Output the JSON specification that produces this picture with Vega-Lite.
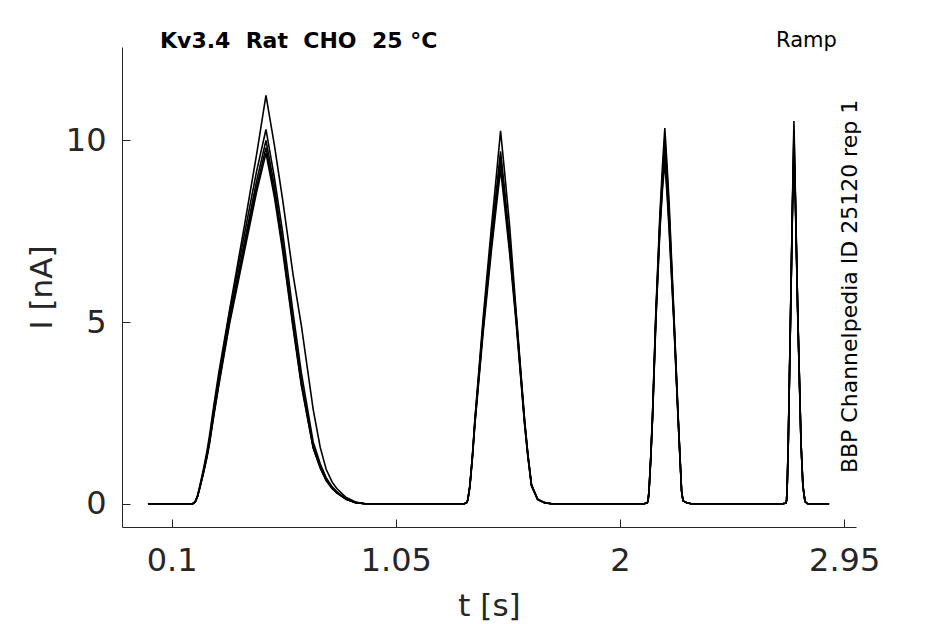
{
  "$schema": "https://vega.github.io/schema/vega-lite/v6.json",
  "width": 734,
  "height": 480,
  "autosize": "none",
  "padding": {"left": 122, "top": 47, "right": 89, "bottom": 97},
  "background": "white",
  "datasets": {
    "sweeps": [
      {"sweep": "A", "t": 0, "I": 0}, {"sweep": "A", "t": 0.19, "I": 0}, {"sweep": "A", "t": 0.2, "I": 0.05}, {"sweep": "A", "t": 0.21, "I": 0.22},
      {"sweep": "A", "t": 0.22, "I": 0.5}, {"sweep": "A", "t": 0.235, "I": 0.95}, {"sweep": "A", "t": 0.25, "I": 1.45}, {"sweep": "A", "t": 0.26, "I": 1.85},
      {"sweep": "A", "t": 0.28, "I": 2.75}, {"sweep": "A", "t": 0.3, "I": 3.6}, {"sweep": "A", "t": 0.345, "I": 5.3}, {"sweep": "A", "t": 0.41, "I": 7.7},
      {"sweep": "A", "t": 0.46, "I": 9.6}, {"sweep": "A", "t": 0.5, "I": 11.24}, {"sweep": "A", "t": 0.535, "I": 9.9}, {"sweep": "A", "t": 0.57, "I": 8.4},
      {"sweep": "A", "t": 0.615, "I": 6.3}, {"sweep": "A", "t": 0.65, "I": 4.9}, {"sweep": "A", "t": 0.7, "I": 2.6}, {"sweep": "A", "t": 0.73, "I": 1.55},
      {"sweep": "A", "t": 0.755, "I": 0.95}, {"sweep": "A", "t": 0.78, "I": 0.6},
      {"sweep": "A", "t": 0.8, "I": 0.42}, {"sweep": "A", "t": 0.84, "I": 0.17}, {"sweep": "A", "t": 0.88, "I": 0.05}, {"sweep": "A", "t": 0.92, "I": 0},
      {"sweep": "A", "t": 1.34, "I": 0}, {"sweep": "A", "t": 1.35, "I": 0.03}, {"sweep": "A", "t": 1.355, "I": 0.1}, {"sweep": "A", "t": 1.364, "I": 0.5},
      {"sweep": "A", "t": 1.375, "I": 1.35}, {"sweep": "A", "t": 1.385, "I": 2.3}, {"sweep": "A", "t": 1.42, "I": 5.1}, {"sweep": "A", "t": 1.455, "I": 7.6},
      {"sweep": "A", "t": 1.475, "I": 8.95}, {"sweep": "A", "t": 1.494, "I": 10.26}, {"sweep": "A", "t": 1.51, "I": 9.2}, {"sweep": "A", "t": 1.533, "I": 7.6},
      {"sweep": "A", "t": 1.561, "I": 5.2}, {"sweep": "A", "t": 1.596, "I": 2.3}, {"sweep": "A", "t": 1.61, "I": 1.35}, {"sweep": "A", "t": 1.625, "I": 0.52},
      {"sweep": "A", "t": 1.651, "I": 0.13}, {"sweep": "A", "t": 1.68, "I": 0.03}, {"sweep": "A", "t": 1.71, "I": 0},
      {"sweep": "A", "t": 2.1, "I": 0}, {"sweep": "A", "t": 2.115, "I": 0.02}, {"sweep": "A", "t": 2.119, "I": 0.08}, {"sweep": "A", "t": 2.123, "I": 0.36},
      {"sweep": "A", "t": 2.13, "I": 1.25}, {"sweep": "A", "t": 2.138, "I": 2.5}, {"sweep": "A", "t": 2.152, "I": 5.3}, {"sweep": "A", "t": 2.169, "I": 7.95},
      {"sweep": "A", "t": 2.18, "I": 9.3}, {"sweep": "A", "t": 2.19, "I": 10.34}, {"sweep": "A", "t": 2.2, "I": 9.25}, {"sweep": "A", "t": 2.208, "I": 8.3},
      {"sweep": "A", "t": 2.228, "I": 5.3}, {"sweep": "A", "t": 2.246, "I": 2.5}, {"sweep": "A", "t": 2.254, "I": 1.35}, {"sweep": "A", "t": 2.261, "I": 0.36},
      {"sweep": "A", "t": 2.267, "I": 0.08}, {"sweep": "A", "t": 2.285, "I": 0.02}, {"sweep": "A", "t": 2.303, "I": 0},
      {"sweep": "A", "t": 2.69, "I": 0}, {"sweep": "A", "t": 2.703, "I": 0.02}, {"sweep": "A", "t": 2.706, "I": 0.1}, {"sweep": "A", "t": 2.709, "I": 0.6},
      {"sweep": "A", "t": 2.713, "I": 1.7}, {"sweep": "A", "t": 2.723, "I": 5.35}, {"sweep": "A", "t": 2.731, "I": 8.4}, {"sweep": "A", "t": 2.737, "I": 10.53},
      {"sweep": "A", "t": 2.743, "I": 8.6}, {"sweep": "A", "t": 2.753, "I": 5.35}, {"sweep": "A", "t": 2.767, "I": 1.7}, {"sweep": "A", "t": 2.775, "I": 0.5},
      {"sweep": "A", "t": 2.784, "I": 0.06}, {"sweep": "A", "t": 2.795, "I": 0}, {"sweep": "A", "t": 2.886, "I": 0},

      {"sweep": "B", "t": 0, "I": 0}, {"sweep": "B", "t": 0.19, "I": 0}, {"sweep": "B", "t": 0.2, "I": 0.05}, {"sweep": "B", "t": 0.21, "I": 0.21},
      {"sweep": "B", "t": 0.22, "I": 0.47}, {"sweep": "B", "t": 0.235, "I": 0.89}, {"sweep": "B", "t": 0.25, "I": 1.37}, {"sweep": "B", "t": 0.26, "I": 1.73},
      {"sweep": "B", "t": 0.28, "I": 2.63}, {"sweep": "B", "t": 0.3, "I": 3.47}, {"sweep": "B", "t": 0.345, "I": 5.25}, {"sweep": "B", "t": 0.41, "I": 7.46},
      {"sweep": "B", "t": 0.46, "I": 9.14}, {"sweep": "B", "t": 0.5, "I": 10.3}, {"sweep": "B", "t": 0.535, "I": 9.0}, {"sweep": "B", "t": 0.57, "I": 7.5},
      {"sweep": "B", "t": 0.615, "I": 5.25}, {"sweep": "B", "t": 0.65, "I": 3.6}, {"sweep": "B", "t": 0.7, "I": 1.7}, {"sweep": "B", "t": 0.73, "I": 1.1},
      {"sweep": "B", "t": 0.755, "I": 0.72}, {"sweep": "B", "t": 0.78, "I": 0.47},
      {"sweep": "B", "t": 0.8, "I": 0.33}, {"sweep": "B", "t": 0.84, "I": 0.13}, {"sweep": "B", "t": 0.88, "I": 0.03}, {"sweep": "B", "t": 0.92, "I": 0},
      {"sweep": "B", "t": 1.34, "I": 0}, {"sweep": "B", "t": 1.35, "I": 0.03}, {"sweep": "B", "t": 1.355, "I": 0.1}, {"sweep": "B", "t": 1.364, "I": 0.49},
      {"sweep": "B", "t": 1.375, "I": 1.34}, {"sweep": "B", "t": 1.385, "I": 2.27}, {"sweep": "B", "t": 1.42, "I": 4.95}, {"sweep": "B", "t": 1.455, "I": 7.3},
      {"sweep": "B", "t": 1.475, "I": 8.55}, {"sweep": "B", "t": 1.494, "I": 9.7}, {"sweep": "B", "t": 1.51, "I": 8.7}, {"sweep": "B", "t": 1.533, "I": 7.2},
      {"sweep": "B", "t": 1.561, "I": 5.1}, {"sweep": "B", "t": 1.596, "I": 2.27}, {"sweep": "B", "t": 1.61, "I": 1.34}, {"sweep": "B", "t": 1.625, "I": 0.52},
      {"sweep": "B", "t": 1.651, "I": 0.12}, {"sweep": "B", "t": 1.68, "I": 0.03}, {"sweep": "B", "t": 1.71, "I": 0},
      {"sweep": "B", "t": 2.1, "I": 0}, {"sweep": "B", "t": 2.115, "I": 0.02}, {"sweep": "B", "t": 2.119, "I": 0.08}, {"sweep": "B", "t": 2.123, "I": 0.35},
      {"sweep": "B", "t": 2.13, "I": 1.22}, {"sweep": "B", "t": 2.138, "I": 2.45}, {"sweep": "B", "t": 2.152, "I": 5.2}, {"sweep": "B", "t": 2.169, "I": 7.8},
      {"sweep": "B", "t": 2.18, "I": 9.05}, {"sweep": "B", "t": 2.19, "I": 10.1}, {"sweep": "B", "t": 2.2, "I": 9.05}, {"sweep": "B", "t": 2.208, "I": 8.1},
      {"sweep": "B", "t": 2.228, "I": 5.2}, {"sweep": "B", "t": 2.246, "I": 2.45}, {"sweep": "B", "t": 2.254, "I": 1.32}, {"sweep": "B", "t": 2.261, "I": 0.35},
      {"sweep": "B", "t": 2.267, "I": 0.08}, {"sweep": "B", "t": 2.285, "I": 0.02}, {"sweep": "B", "t": 2.303, "I": 0},
      {"sweep": "B", "t": 2.69, "I": 0}, {"sweep": "B", "t": 2.703, "I": 0.02}, {"sweep": "B", "t": 2.706, "I": 0.1}, {"sweep": "B", "t": 2.709, "I": 0.6},
      {"sweep": "B", "t": 2.713, "I": 1.7}, {"sweep": "B", "t": 2.723, "I": 5.3}, {"sweep": "B", "t": 2.731, "I": 8.3}, {"sweep": "B", "t": 2.737, "I": 10.3},
      {"sweep": "B", "t": 2.743, "I": 8.5}, {"sweep": "B", "t": 2.753, "I": 5.3}, {"sweep": "B", "t": 2.767, "I": 1.7}, {"sweep": "B", "t": 2.775, "I": 0.5},
      {"sweep": "B", "t": 2.784, "I": 0.06}, {"sweep": "B", "t": 2.795, "I": 0}, {"sweep": "B", "t": 2.886, "I": 0},

      {"sweep": "C", "t": 0, "I": 0}, {"sweep": "C", "t": 0.19, "I": 0}, {"sweep": "C", "t": 0.2, "I": 0.05}, {"sweep": "C", "t": 0.21, "I": 0.2},
      {"sweep": "C", "t": 0.22, "I": 0.46}, {"sweep": "C", "t": 0.235, "I": 0.87}, {"sweep": "C", "t": 0.25, "I": 1.33}, {"sweep": "C", "t": 0.26, "I": 1.68},
      {"sweep": "C", "t": 0.28, "I": 2.55}, {"sweep": "C", "t": 0.3, "I": 3.37}, {"sweep": "C", "t": 0.345, "I": 5.1}, {"sweep": "C", "t": 0.41, "I": 7.24},
      {"sweep": "C", "t": 0.46, "I": 8.87}, {"sweep": "C", "t": 0.5, "I": 10.0}, {"sweep": "C", "t": 0.535, "I": 8.77}, {"sweep": "C", "t": 0.57, "I": 7.24},
      {"sweep": "C", "t": 0.615, "I": 5.0}, {"sweep": "C", "t": 0.65, "I": 3.37}, {"sweep": "C", "t": 0.7, "I": 1.58}, {"sweep": "C", "t": 0.73, "I": 1.02},
      {"sweep": "C", "t": 0.755, "I": 0.66}, {"sweep": "C", "t": 0.78, "I": 0.44},
      {"sweep": "C", "t": 0.8, "I": 0.31}, {"sweep": "C", "t": 0.84, "I": 0.12}, {"sweep": "C", "t": 0.88, "I": 0.03}, {"sweep": "C", "t": 0.92, "I": 0},
      {"sweep": "C", "t": 1.34, "I": 0}, {"sweep": "C", "t": 1.35, "I": 0.03}, {"sweep": "C", "t": 1.355, "I": 0.1}, {"sweep": "C", "t": 1.364, "I": 0.49},
      {"sweep": "C", "t": 1.375, "I": 1.32}, {"sweep": "C", "t": 1.385, "I": 2.23}, {"sweep": "C", "t": 1.42, "I": 4.88}, {"sweep": "C", "t": 1.455, "I": 7.2},
      {"sweep": "C", "t": 1.475, "I": 8.42}, {"sweep": "C", "t": 1.494, "I": 9.55}, {"sweep": "C", "t": 1.51, "I": 8.58}, {"sweep": "C", "t": 1.533, "I": 7.1},
      {"sweep": "C", "t": 1.561, "I": 5.05}, {"sweep": "C", "t": 1.596, "I": 2.23}, {"sweep": "C", "t": 1.61, "I": 1.32}, {"sweep": "C", "t": 1.625, "I": 0.51},
      {"sweep": "C", "t": 1.651, "I": 0.12}, {"sweep": "C", "t": 1.68, "I": 0.03}, {"sweep": "C", "t": 1.71, "I": 0},
      {"sweep": "C", "t": 2.1, "I": 0}, {"sweep": "C", "t": 2.115, "I": 0.02}, {"sweep": "C", "t": 2.119, "I": 0.08}, {"sweep": "C", "t": 2.123, "I": 0.35},
      {"sweep": "C", "t": 2.13, "I": 1.2}, {"sweep": "C", "t": 2.138, "I": 2.4}, {"sweep": "C", "t": 2.152, "I": 5.15}, {"sweep": "C", "t": 2.169, "I": 7.7},
      {"sweep": "C", "t": 2.18, "I": 8.9}, {"sweep": "C", "t": 2.19, "I": 9.85}, {"sweep": "C", "t": 2.2, "I": 8.85}, {"sweep": "C", "t": 2.208, "I": 7.9},
      {"sweep": "C", "t": 2.228, "I": 5.15}, {"sweep": "C", "t": 2.246, "I": 2.4}, {"sweep": "C", "t": 2.254, "I": 1.3}, {"sweep": "C", "t": 2.261, "I": 0.35},
      {"sweep": "C", "t": 2.267, "I": 0.08}, {"sweep": "C", "t": 2.285, "I": 0.02}, {"sweep": "C", "t": 2.303, "I": 0},
      {"sweep": "C", "t": 2.69, "I": 0}, {"sweep": "C", "t": 2.703, "I": 0.02}, {"sweep": "C", "t": 2.706, "I": 0.1}, {"sweep": "C", "t": 2.709, "I": 0.6},
      {"sweep": "C", "t": 2.713, "I": 1.68}, {"sweep": "C", "t": 2.723, "I": 5.3}, {"sweep": "C", "t": 2.731, "I": 8.25}, {"sweep": "C", "t": 2.737, "I": 10.05},
      {"sweep": "C", "t": 2.743, "I": 8.45}, {"sweep": "C", "t": 2.753, "I": 5.3}, {"sweep": "C", "t": 2.767, "I": 1.68}, {"sweep": "C", "t": 2.775, "I": 0.5},
      {"sweep": "C", "t": 2.784, "I": 0.06}, {"sweep": "C", "t": 2.795, "I": 0}, {"sweep": "C", "t": 2.886, "I": 0},

      {"sweep": "D", "t": 0, "I": 0}, {"sweep": "D", "t": 0.19, "I": 0}, {"sweep": "D", "t": 0.2, "I": 0.05}, {"sweep": "D", "t": 0.21, "I": 0.2},
      {"sweep": "D", "t": 0.22, "I": 0.45}, {"sweep": "D", "t": 0.235, "I": 0.85}, {"sweep": "D", "t": 0.25, "I": 1.3}, {"sweep": "D", "t": 0.26, "I": 1.65},
      {"sweep": "D", "t": 0.28, "I": 2.5}, {"sweep": "D", "t": 0.3, "I": 3.3}, {"sweep": "D", "t": 0.345, "I": 5.0}, {"sweep": "D", "t": 0.41, "I": 7.1},
      {"sweep": "D", "t": 0.46, "I": 8.7}, {"sweep": "D", "t": 0.5, "I": 9.8}, {"sweep": "D", "t": 0.535, "I": 8.6}, {"sweep": "D", "t": 0.57, "I": 7.1},
      {"sweep": "D", "t": 0.615, "I": 4.9}, {"sweep": "D", "t": 0.65, "I": 3.3}, {"sweep": "D", "t": 0.7, "I": 1.55}, {"sweep": "D", "t": 0.73, "I": 1.0},
      {"sweep": "D", "t": 0.755, "I": 0.65}, {"sweep": "D", "t": 0.78, "I": 0.43},
      {"sweep": "D", "t": 0.8, "I": 0.3}, {"sweep": "D", "t": 0.84, "I": 0.12}, {"sweep": "D", "t": 0.88, "I": 0.03}, {"sweep": "D", "t": 0.92, "I": 0},
      {"sweep": "D", "t": 1.34, "I": 0}, {"sweep": "D", "t": 1.35, "I": 0.03}, {"sweep": "D", "t": 1.355, "I": 0.1}, {"sweep": "D", "t": 1.364, "I": 0.48},
      {"sweep": "D", "t": 1.375, "I": 1.3}, {"sweep": "D", "t": 1.385, "I": 2.2}, {"sweep": "D", "t": 1.42, "I": 4.8}, {"sweep": "D", "t": 1.455, "I": 7.1},
      {"sweep": "D", "t": 1.475, "I": 8.3}, {"sweep": "D", "t": 1.494, "I": 9.4}, {"sweep": "D", "t": 1.51, "I": 8.45}, {"sweep": "D", "t": 1.533, "I": 7.0},
      {"sweep": "D", "t": 1.561, "I": 5.0}, {"sweep": "D", "t": 1.596, "I": 2.2}, {"sweep": "D", "t": 1.61, "I": 1.3}, {"sweep": "D", "t": 1.625, "I": 0.5},
      {"sweep": "D", "t": 1.651, "I": 0.12}, {"sweep": "D", "t": 1.68, "I": 0.03}, {"sweep": "D", "t": 1.71, "I": 0},
      {"sweep": "D", "t": 2.1, "I": 0}, {"sweep": "D", "t": 2.115, "I": 0.02}, {"sweep": "D", "t": 2.119, "I": 0.08}, {"sweep": "D", "t": 2.123, "I": 0.35},
      {"sweep": "D", "t": 2.13, "I": 1.2}, {"sweep": "D", "t": 2.138, "I": 2.4}, {"sweep": "D", "t": 2.152, "I": 5.1}, {"sweep": "D", "t": 2.169, "I": 7.6},
      {"sweep": "D", "t": 2.18, "I": 8.8}, {"sweep": "D", "t": 2.19, "I": 9.6}, {"sweep": "D", "t": 2.2, "I": 8.6}, {"sweep": "D", "t": 2.208, "I": 7.7},
      {"sweep": "D", "t": 2.228, "I": 5.1}, {"sweep": "D", "t": 2.246, "I": 2.4}, {"sweep": "D", "t": 2.254, "I": 1.3}, {"sweep": "D", "t": 2.261, "I": 0.35},
      {"sweep": "D", "t": 2.267, "I": 0.08}, {"sweep": "D", "t": 2.285, "I": 0.02}, {"sweep": "D", "t": 2.303, "I": 0},
      {"sweep": "D", "t": 2.69, "I": 0}, {"sweep": "D", "t": 2.703, "I": 0.02}, {"sweep": "D", "t": 2.706, "I": 0.1}, {"sweep": "D", "t": 2.709, "I": 0.6},
      {"sweep": "D", "t": 2.713, "I": 1.67}, {"sweep": "D", "t": 2.723, "I": 5.28}, {"sweep": "D", "t": 2.731, "I": 8.2}, {"sweep": "D", "t": 2.737, "I": 9.8},
      {"sweep": "D", "t": 2.743, "I": 8.4}, {"sweep": "D", "t": 2.753, "I": 5.28}, {"sweep": "D", "t": 2.767, "I": 1.67}, {"sweep": "D", "t": 2.775, "I": 0.5},
      {"sweep": "D", "t": 2.784, "I": 0.06}, {"sweep": "D", "t": 2.795, "I": 0}, {"sweep": "D", "t": 2.886, "I": 0},

      {"sweep": "E", "t": 0, "I": 0}, {"sweep": "E", "t": 0.19, "I": 0}, {"sweep": "E", "t": 0.2, "I": 0.05}, {"sweep": "E", "t": 0.21, "I": 0.2},
      {"sweep": "E", "t": 0.22, "I": 0.44}, {"sweep": "E", "t": 0.235, "I": 0.84}, {"sweep": "E", "t": 0.25, "I": 1.28}, {"sweep": "E", "t": 0.26, "I": 1.63},
      {"sweep": "E", "t": 0.28, "I": 2.46}, {"sweep": "E", "t": 0.3, "I": 3.25}, {"sweep": "E", "t": 0.345, "I": 4.93}, {"sweep": "E", "t": 0.41, "I": 6.99},
      {"sweep": "E", "t": 0.46, "I": 8.57}, {"sweep": "E", "t": 0.5, "I": 9.65}, {"sweep": "E", "t": 0.535, "I": 8.47}, {"sweep": "E", "t": 0.57, "I": 6.99},
      {"sweep": "E", "t": 0.615, "I": 4.83}, {"sweep": "E", "t": 0.65, "I": 3.25}, {"sweep": "E", "t": 0.7, "I": 1.53}, {"sweep": "E", "t": 0.73, "I": 0.98},
      {"sweep": "E", "t": 0.755, "I": 0.64}, {"sweep": "E", "t": 0.78, "I": 0.42},
      {"sweep": "E", "t": 0.8, "I": 0.3}, {"sweep": "E", "t": 0.84, "I": 0.12}, {"sweep": "E", "t": 0.88, "I": 0.03}, {"sweep": "E", "t": 0.92, "I": 0},
      {"sweep": "E", "t": 1.34, "I": 0}, {"sweep": "E", "t": 1.35, "I": 0.03}, {"sweep": "E", "t": 1.355, "I": 0.1}, {"sweep": "E", "t": 1.364, "I": 0.47},
      {"sweep": "E", "t": 1.375, "I": 1.27}, {"sweep": "E", "t": 1.385, "I": 2.16}, {"sweep": "E", "t": 1.42, "I": 4.7}, {"sweep": "E", "t": 1.455, "I": 6.95},
      {"sweep": "E", "t": 1.475, "I": 8.12}, {"sweep": "E", "t": 1.494, "I": 9.2}, {"sweep": "E", "t": 1.51, "I": 8.27}, {"sweep": "E", "t": 1.533, "I": 6.85},
      {"sweep": "E", "t": 1.561, "I": 4.9}, {"sweep": "E", "t": 1.596, "I": 2.16}, {"sweep": "E", "t": 1.61, "I": 1.27}, {"sweep": "E", "t": 1.625, "I": 0.49},
      {"sweep": "E", "t": 1.651, "I": 0.12}, {"sweep": "E", "t": 1.68, "I": 0.03}, {"sweep": "E", "t": 1.71, "I": 0},
      {"sweep": "E", "t": 2.1, "I": 0}, {"sweep": "E", "t": 2.115, "I": 0.02}, {"sweep": "E", "t": 2.119, "I": 0.08}, {"sweep": "E", "t": 2.123, "I": 0.34},
      {"sweep": "E", "t": 2.13, "I": 1.17}, {"sweep": "E", "t": 2.138, "I": 2.35}, {"sweep": "E", "t": 2.152, "I": 5.0}, {"sweep": "E", "t": 2.169, "I": 7.5},
      {"sweep": "E", "t": 2.18, "I": 8.65}, {"sweep": "E", "t": 2.19, "I": 9.4}, {"sweep": "E", "t": 2.2, "I": 8.45}, {"sweep": "E", "t": 2.208, "I": 7.55},
      {"sweep": "E", "t": 2.228, "I": 5.0}, {"sweep": "E", "t": 2.246, "I": 2.35}, {"sweep": "E", "t": 2.254, "I": 1.27}, {"sweep": "E", "t": 2.261, "I": 0.34},
      {"sweep": "E", "t": 2.267, "I": 0.08}, {"sweep": "E", "t": 2.285, "I": 0.02}, {"sweep": "E", "t": 2.303, "I": 0},
      {"sweep": "E", "t": 2.69, "I": 0}, {"sweep": "E", "t": 2.703, "I": 0.02}, {"sweep": "E", "t": 2.706, "I": 0.1}, {"sweep": "E", "t": 2.709, "I": 0.58},
      {"sweep": "E", "t": 2.713, "I": 1.65}, {"sweep": "E", "t": 2.723, "I": 5.2}, {"sweep": "E", "t": 2.731, "I": 8.1}, {"sweep": "E", "t": 2.737, "I": 9.6},
      {"sweep": "E", "t": 2.743, "I": 8.3}, {"sweep": "E", "t": 2.753, "I": 5.2}, {"sweep": "E", "t": 2.767, "I": 1.65}, {"sweep": "E", "t": 2.775, "I": 0.48},
      {"sweep": "E", "t": 2.784, "I": 0.06}, {"sweep": "E", "t": 2.795, "I": 0}, {"sweep": "E", "t": 2.886, "I": 0}
    ]
  },
  "layer": [
    {
      "data": {"name": "sweeps"},
      "mark": {"type": "line", "color": "black", "strokeWidth": 1.6},
      "encoding": {
        "x": {
          "field": "t",
          "type": "quantitative",
          "scale": {"domain": [-0.11, 3.0], "nice": false, "zero": false},
          "axis": {
            "title": "t [s]",
            "values": [0.1, 1.05, 2, 2.95],
            "format": ".3~g",
            "labelPadding": 26,
            "titleY": 88,
            "titleBaseline": "alphabetic"
          }
        },
        "y": {
          "field": "I",
          "type": "quantitative",
          "scale": {"domain": [-0.64, 12.57], "nice": false, "zero": false},
          "axis": {
            "title": "I [nA]",
            "values": [0, 5, 10],
            "labelPadding": 24,
            "titleX": -71,
            "titleY": 240,
            "titleAngle": 270,
            "titleAlign": "center",
            "titleBaseline": "alphabetic"
          }
        },
        "detail": {"field": "sweep"}
      }
    },
    {
      "data": {"values": [{"label": "Kv3.4 \u00a0Rat \u00a0CHO \u00a025 °C"}]},
      "mark": {"type": "text", "align": "left", "baseline": "alphabetic", "font": "DejaVu Sans", "fontSize": 22, "fontWeight": "bold", "color": "black"},
      "encoding": {
        "x": {"datum": 0.051},
        "y": {"datum": 12.55},
        "text": {"field": "label"}
      }
    },
    {
      "data": {"values": [{"label": "Ramp"}]},
      "mark": {"type": "text", "align": "center", "baseline": "alphabetic", "font": "DejaVu Sans", "fontSize": 21, "color": "black"},
      "encoding": {
        "x": {"datum": 2.79},
        "y": {"datum": 12.57},
        "text": {"field": "label"}
      }
    },
    {
      "data": {"values": [{"label": "BBP Channelpedia ID 25120 rep 1"}]},
      "mark": {"type": "text", "angle": 270, "align": "center", "baseline": "alphabetic", "font": "DejaVu Sans", "fontSize": 22, "color": "black"},
      "encoding": {
        "x": {"datum": 3.004},
        "y": {"datum": 5.98},
        "text": {"field": "label"}
      }
    }
  ],
  "config": {
    "view": {"stroke": null},
    "axis": {
      "grid": false,
      "domainColor": "#262626",
      "domainWidth": 1,
      "tickColor": "#262626",
      "tickWidth": 1,
      "tickSize": -8,
      "labelColor": "#262626",
      "titleColor": "#262626",
      "labelFont": "DejaVu Sans",
      "titleFont": "DejaVu Sans",
      "labelFontSize": 32,
      "titleFontSize": 31,
      "titleFontWeight": "normal"
    }
  }
}
